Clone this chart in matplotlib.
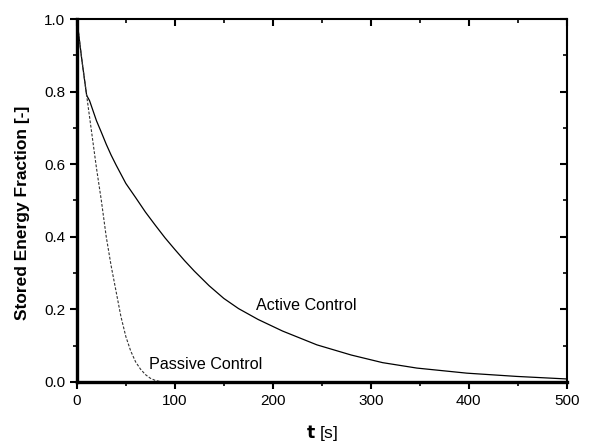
import matplotlib
matplotlib.use("Agg")
import matplotlib.pyplot as plt
from matplotlib.ticker import MultipleLocator

plt.rcParams['font.family'] = ['Liberation Sans', 'DejaVu Sans']

active_t = [0, 5, 10, 13, 20, 25, 30, 35, 40, 50, 60, 70, 80, 90, 100, 110, 120,
            135, 150, 165, 185, 210, 245, 280, 312, 347, 398, 449, 500]
active_y = [1.0, 0.89, 0.79, 0.775, 0.72, 0.688, 0.655, 0.625, 0.598, 0.547,
            0.508, 0.468, 0.432, 0.397, 0.365, 0.334, 0.305, 0.265, 0.23, 0.202,
            0.172, 0.14, 0.102, 0.074, 0.053, 0.038, 0.024, 0.015, 0.008]

passive_t = [0, 5, 10, 15, 20, 25, 30, 35, 40, 45, 50, 55, 60, 65, 70, 75, 80, 85]
passive_y = [1.0, 0.89, 0.79, 0.69, 0.59, 0.50, 0.40, 0.32, 0.25, 0.18, 0.125,
             0.085, 0.055, 0.035, 0.02, 0.01, 0.004, 0.001]

fig = plt.figure(figsize=(5.91, 4.43), dpi=100)
ax = fig.add_axes([0.130, 0.138, 0.829, 0.819])

ax.plot(active_t, active_y, color='black', lw=0.9)
ax.plot(passive_t, passive_y, color='#333333', lw=0.8, ls=(0, (2.5, 1.5)))

ax.text(183, 0.21, 'Active Control', fontsize=11.6, va='center', ha='left')
ax.text(74, 0.047, 'Passive Control', fontsize=11.6, va='center', ha='left')

ax.set_xlim(0, 500)
ax.set_ylim(0, 1.0)
ax.xaxis.set_major_locator(MultipleLocator(100))
ax.xaxis.set_minor_locator(MultipleLocator(50))
ax.yaxis.set_major_locator(MultipleLocator(0.2))
ax.yaxis.set_minor_locator(MultipleLocator(0.1))
ax.yaxis.set_major_formatter(matplotlib.ticker.FormatStrFormatter('%.1f'))

ax.tick_params(axis='both', which='major', direction='out', length=5, width=1.5,
               labelsize=11)
ax.tick_params(axis='both', which='minor', direction='out', length=3, width=1.2)
ax.tick_params(axis='x', which='both', top=True)
ax.tick_params(axis='y', which='both', right=True)

# top/right ticks point inward
for t in ax.xaxis.get_major_ticks() + ax.xaxis.get_minor_ticks():
    t.tick2line.set_marker(matplotlib.lines.TICKDOWN)
for t in ax.yaxis.get_major_ticks() + ax.yaxis.get_minor_ticks():
    t.tick2line.set_marker(matplotlib.lines.TICKLEFT)

ax.spines['left'].set_linewidth(2.4)
ax.spines['bottom'].set_linewidth(2.4)
ax.spines['top'].set_linewidth(1.5)
ax.spines['right'].set_linewidth(1.5)

ax.set_xlabel('$\\mathbf{t}$ [s]', fontsize=12.5, va='center')
ax.set_ylabel('Stored Energy Fraction [-]', fontsize=12.5, fontweight='bold',
              va='center')
ax.xaxis.set_label_coords(0.5, -0.14)
ax.yaxis.set_label_coords(-0.11, 0.466)

fig.savefig('out.png', dpi=100)
